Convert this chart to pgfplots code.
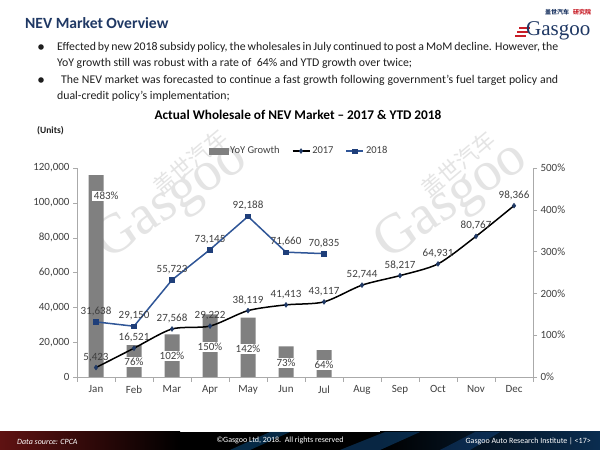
\documentclass[border=0pt]{standalone}
\usepackage{pgfplots}
\pgfplotsset{compat=1.18}
\usepackage{fontspec}
\setmainfont{Carlito}
\newfontfamily\cjk{Noto Sans CJK SC}
\newfontfamily\wmserif{Liberation Serif}
\definecolor{titleblue}{RGB}{31,56,100}
\definecolor{barcol}{RGB}{128,128,128}
\definecolor{line18}{RGB}{47,85,151}
\definecolor{mark18}{RGB}{31,63,122}
\definecolor{mark17}{RGB}{31,56,100}
\definecolor{axgray}{RGB}{170,170,170}
\definecolor{ticktext}{RGB}{64,64,64}
\definecolor{wm}{RGB}{228,228,228}
\definecolor{logored}{RGB}{200,30,40}
\definecolor{footred}{RGB}{95,18,18}
\definecolor{footblue}{RGB}{10,45,80}
\definecolor{bodytext}{RGB}{30,30,30}
\begin{document}
\begin{tikzpicture}
\begin{scope}[x=1bp,y=1bp]
\useasboundingbox (0,0) rectangle (600,450);
\fill[white] (0,0) rectangle (600,450);
% watermarks
\node[rotate=34, text=wm, font=\wmserif\fontsize{56bp}{56bp}\selectfont] at (172,248) {Gasgoo};
\node[rotate=40, text=wm, font=\cjk\fontsize{22bp}{22bp}\selectfont] at (190,288) {盖世汽车};
\node[rotate=34, text=wm, font=\wmserif\fontsize{56bp}{56bp}\selectfont] at (452,248) {Gasgoo};
\node[rotate=40, text=wm, font=\cjk\fontsize{22bp}{22bp}\selectfont] at (458,286) {盖世汽车};
% header
\node[anchor=west, inner sep=0, text=titleblue, font=\bfseries\fontsize{15.6bp}{18bp}\selectfont] at (25,427) {NEV Market Overview};
% logo
\draw[logored, line width=1.6bp] (519,422) -- (530,422) (517,418) -- (528,418) (515,414) -- (526,414);
\node[anchor=base west, inner sep=0, text=titleblue, font=\wmserif\fontsize{21bp}{21bp}\selectfont] at (526,414) {Gasgoo};
\node[anchor=west, inner sep=0, text=titleblue, font=\cjk\bfseries\fontsize{6bp}{6bp}\selectfont] at (545,438) {盖世汽车};
\node[anchor=west, inner sep=0, text=logored, font=\cjk\bfseries\fontsize{6bp}{6bp}\selectfont] at (573,438) {研究院};
% bullets
\fill[bodytext] (41,403) circle (2.8);
\fill[bodytext] (41,370) circle (2.8);
\begin{scope}[every node/.style={anchor=base west, inner sep=0, text=bodytext, font=\fontsize{11.8bp}{14bp}\selectfont}]
\node at (57,399) {\makebox[501bp][s]{Effected by new 2018 subsidy policy, the wholesales in July continued to post a MoM decline. However, the}};
\node at (57,383.5) {YoY growth still was robust with a rate of \ 64\% and YTD growth over twice;};
\node at (61,366) {\makebox[497bp][s]{The NEV market was forecasted to continue a fast growth following government’s fuel target policy and}};
\node at (57,350) {dual-credit policy’s implementation;};
\end{scope}
% chart title
\node[inner sep=0, font=\bfseries\fontsize{13.3bp}{15bp}\selectfont] at (298,335) {Actual Wholesale of NEV Market – 2017 \& YTD 2018};
\node[anchor=west, inner sep=0, font=\bfseries\fontsize{9.5bp}{10bp}\selectfont, text=bodytext] at (37,319) {(Units)};
\end{scope}
% right axis with bars
\begin{axis}[
  at={(77bp,73bp)}, anchor=south west, scale only axis,
  width=456bp, height=209bp,
  xmin=-0.5, xmax=11.5, ymin=0, ymax=500,
  axis x line=none, axis y line*=right,
  axis line style={axgray},
  ytick={0,100,...,500},
  yticklabel={\pgfmathprintnumber{\tick}\%},
  /pgf/number format/assume math mode=true,
  /pgf/number format/fixed, /pgf/number format/precision=0,
  tick align=outside, major tick length=4bp,
  major tick style={axgray},
  yticklabel style={font=\fontsize{11bp}{12bp}\selectfont, text=ticktext},
]
\addplot[ybar, bar width=15bp, fill=barcol, draw=none] coordinates {(0,483) (1,76) (2,102) (3,150) (4,142) (5,73) (6,64)};
\addplot[draw=none, nodes near coords, point meta=explicit symbolic,
  nodes near coords style={anchor=center, fill=white, inner sep=1.5bp, font=\fontsize{11bp}{12bp}\selectfont, text=ticktext}]
  coordinates {(0.27,433)[483\%] (1,36)[76\%] (2,50)[102\%] (3,72)[150\%] (4,67)[142\%] (5,33)[73\%] (6,29)[64\%]};
\end{axis}
% left axis with lines
\begin{axis}[
  at={(77bp,73bp)}, anchor=south west, scale only axis,
  width=456bp, height=209bp,
  xmin=-0.5, xmax=11.5, ymin=0, ymax=120000,
  axis x line*=bottom, axis y line*=left,
  axis line style={axgray},
  xtick={0,...,11},
  xticklabels={Jan,Feb,Mar,Apr,May,Jun,Jul,Aug,Sep,Oct,Nov,Dec},
  major x tick style={draw=none},
  minor xtick={-0.5,0.5,...,11.5},
  minor x tick style={axgray},
  minor tick length=5bp,
  ytick={0,20000,...,120000},
  scaled y ticks=false,
  /pgf/number format/assume math mode=true,
  /pgf/number format/fixed, /pgf/number format/precision=0,
  /pgf/number format/1000 sep={,},
  tick align=outside, major tick length=4bp,
  major y tick style={axgray},
  ticklabel style={font=\fontsize{11bp}{12bp}\selectfont, text=ticktext},
  xticklabel style={yshift=-1bp},
  legend style={at={(0.487,1.081)}, anchor=center, draw=none, fill=none,
    legend columns=3, font=\fontsize{10.5bp}{11bp}\selectfont, text=ticktext,
    /tikz/every even column/.append style={column sep=10bp}},
  nodes near coords style={font=\fontsize{11bp}{12bp}\selectfont, text=ticktext, yshift=2.5bp},
]
\addlegendimage{legend image code/.code={\fill[barcol] (0bp,-3bp) rectangle (19bp,3bp);}}
\addlegendentry{YoY Growth}
\addplot[black, line width=1.5bp, smooth, tension=0.45, mark=diamond*, mark size=2.4bp,
  mark options={fill=mark17, draw=mark17, line width=0.5bp}, nodes near coords]
  coordinates {(0,5423) (1,16521) (2,27568) (3,29222) (4,38119) (5,41413) (6,43117) (7,52744) (8,58217) (9,64931) (10,80767) (11,98366)};
\addlegendentry{2017}
\addplot[line18, line width=1.5bp, mark=square*, mark size=2.3bp,
  mark options={fill=mark18, draw=mark18, line width=0.5bp}, nodes near coords]
  coordinates {(0,31638) (1,29150) (2,55723) (3,73145) (4,92188) (5,71660) (6,70835)};
\addlegendentry{2018}
\end{axis}
% footer
\begin{scope}[x=1bp,y=1bp]
\shade[left color=footred, right color=black] (0,0) rectangle (180,18);
\fill[black] (180,0) rectangle (600,18);
\shade[left color=black, right color=footblue] (380,0) rectangle (600,18);
\fill[cyan!60!blue, opacity=0.35] (230,0) -- (250,0) -- (290,18) -- (270,18) -- cycle;
\fill[cyan!50!blue, opacity=0.35] (340,0) -- (380,0) -- (420,18) -- (385,18) -- cycle;
\fill[cyan!40!blue, opacity=0.3] (440,0) -- (470,0) -- (500,18) -- (475,18) -- cycle;
\node[anchor=west, inner sep=0, text=white, font=\itshape\fontsize{8bp}{9bp}\selectfont] at (17,8.5) {Data source: CPCA};
\node[inner sep=0, text=white, font=\fontsize{8bp}{9bp}\selectfont] at (280,9.5) {©Gasgoo Ltd, 2018.\ \ All rights reserved};
\node[anchor=east, inner sep=0, text=white, font=\fontsize{8bp}{9bp}\selectfont] at (591,8.5) {Gasgoo Auto Research Institute \textbar\ <17>};
\end{scope}
\end{tikzpicture}
\end{document}
